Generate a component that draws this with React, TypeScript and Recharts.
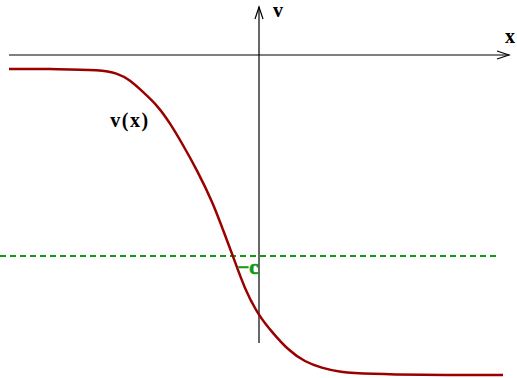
import { LineChart, Line, XAxis, YAxis, ReferenceLine, ReferenceDot } from "recharts";

// curve v(x)
const xs = [-10, -7.96, -6.36, -5.68, -5.16, -4.64, -4.08, -3.56, -3.04, -2.48, -1.84, -1.44, -1.04, -0.56, 0, 0.52, 1.16, 1.84, 2.52, 3.16, 4.52, 6.24, 9.76];
const vs = [-0.56, -0.56, -0.6, -0.72, -1.0, -1.48, -2.0, -2.72, -3.6, -4.6, -5.92, -7.0, -8.04, -9.4, -10.44, -11.08, -11.8, -12.28, -12.52, -12.68, -12.76, -12.8, -12.8];

const cLevel = -8.04;
const xAxisSpan = [-10, 10];
const yAxisSpan = [-11.52, 1.92];

const data = xs.map((x, i) => ({ x, v: vs[i] }));

const RED = "#990000";
const GREEN = "#129a12";
const FONT = "'Liberation Serif', 'Times New Roman', serif";

const Arrow = (props: any) => {
  const { x1, y1, x2, y2 } = props;
  const dx = x2 - x1;
  const dy = y2 - y1;
  const len = Math.sqrt(dx * dx + dy * dy) || 1;
  const ux = dx / len;
  const uy = dy / len;
  const back = 12;
  const half = 4;
  const bx = x2 - ux * back;
  const by = y2 - uy * back;
  const p1 = `${bx - uy * half},${by + ux * half}`;
  const p2 = `${bx + uy * half},${by - ux * half}`;
  return (
    <g>
      <line x1={x1} y1={y1} x2={x2} y2={y2} stroke="#000" strokeWidth={1.2} />
      <polyline points={`${p1} ${x2},${y2} ${p2}`} fill="none" stroke="#000" strokeWidth={1.2} />
    </g>
  );
};

const labelStyle = (value: string, fill: string, extra: any = {}) => ({
  value,
  position: "center" as const,
  fill,
  fontSize: 20,
  fontWeight: "bold",
  fontFamily: FONT,
  ...extra,
});

export default function App() {
  return (
    <div style={{ position: "absolute", left: 0, top: 0, background: "#fff" }}>
      <LineChart width={517} height={378} data={data} margin={{ top: 0, right: 0, bottom: 0, left: 0 }}>
        <XAxis type="number" dataKey="x" domain={[-10.36, 10.32]} hide allowDataOverflow />
        <YAxis type="number" domain={[-12.92, 2.2]} hide allowDataOverflow />
        <ReferenceLine
          segment={[{ x: xAxisSpan[0], y: 0 }, { x: xAxisSpan[1], y: 0 }]}
          shape={Arrow}
          ifOverflow="visible"
        />
        <ReferenceLine
          segment={[{ x: 0, y: yAxisSpan[0] }, { x: 0, y: yAxisSpan[1] }]}
          shape={Arrow}
          ifOverflow="visible"
        />
        <ReferenceLine
          segment={[{ x: -10.36, y: cLevel }, { x: 9.64, y: cLevel }]}
          stroke={GREEN}
          strokeWidth={2}
          strokeDasharray="6 4"
          ifOverflow="visible"
        />
        <Line
          type="basis"
          dataKey="v"
          stroke={RED}
          strokeWidth={2.5}
          dot={false}
          activeDot={false}
          isAnimationActive={false}
        />
        <ReferenceDot x={0.76} y={1.8} r={1} fill="none" stroke="none" ifOverflow="visible" label={labelStyle("v", "#000")} />
        <ReferenceDot x={10.04} y={0.76} r={1} fill="none" stroke="none" ifOverflow="visible" label={labelStyle("x", "#000")} />
        <ReferenceDot
          x={-5.16}
          y={-2.6}
          r={1}
          fill="none"
          stroke="none"
          ifOverflow="visible"
          label={labelStyle("v(x)", "#000", { letterSpacing: 1.5 })}
        />
        <ReferenceDot
          x={-0.44}
          y={-8.48}
          r={1}
          fill="none"
          stroke="none"
          ifOverflow="visible"
          label={labelStyle("\u2212c", GREEN, { fontSize: 21, stroke: GREEN, strokeWidth: 0.7 })}
        />
      </LineChart>
    </div>
  );
}
